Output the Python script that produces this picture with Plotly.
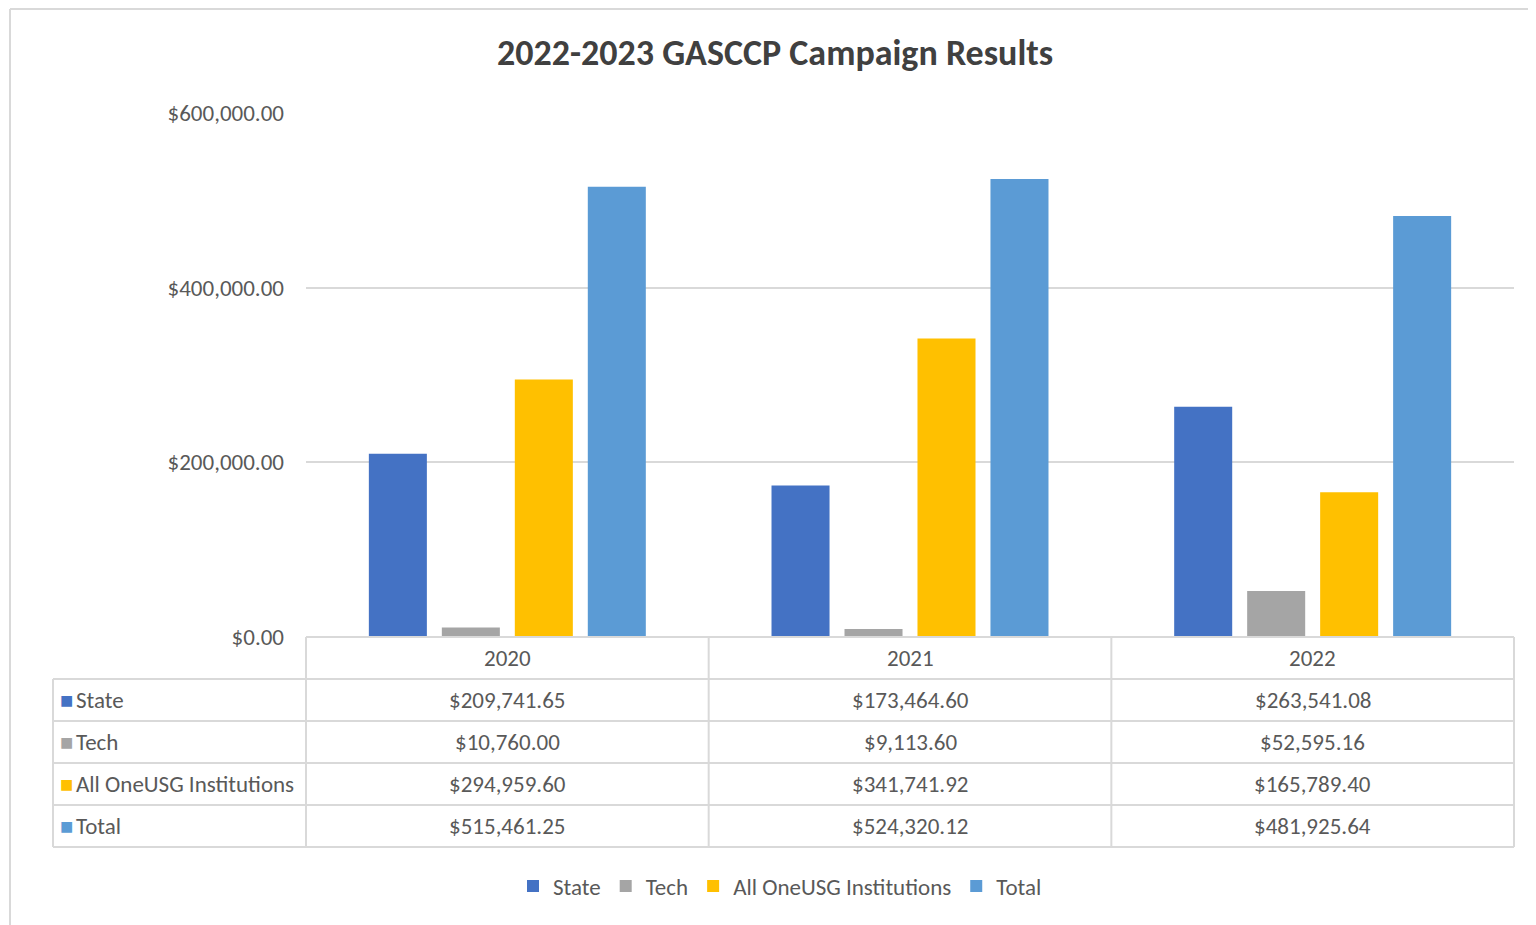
import plotly.graph_objects as go

W, H = 1528, 917   # page body has an 8px margin; 8 + 1528 = 1536, 8 + 917 = 925
OFF = 8

years = ["2020", "2021", "2022"]
series_names = ["State", "Tech", "All OneUSG Institutions", "Total"]
state = [209741.65, 173464.60, 263541.08]
tech = [10760.00, 9113.60, 52595.16]
all_inst = [294959.60, 341741.92, 165789.40]
total = [515461.25, 524320.12, 481925.64]
colors = ["#4472C4", "#A5A5A5", "#FFC000", "#5B9BD5"]
y_ticks = [0, 200000, 400000, 600000]
y_tick_labels = ["$0.00", "$200,000.00", "$400,000.00", "$600,000.00"]

values = [state, tech, all_inst, total]

FONT = "Carlito, Calibri, Lato, sans-serif"
TXT = "#595959"
GRID = "#D9D9D9"


def px(x):
    return (x - OFF) / W


def py(y):
    return 1 - (y - OFF) / H


# layout geometry (screen pixels of the reference)
plot_l, plot_r = 306, 1514
plot_t, plot_b = 113, 637
tab_l = 53
row_edges = [637, 679, 721, 763, 805, 847]

fig = go.Figure()
for name, vals, col in zip(series_names, values, colors):
    fig.add_trace(go.Bar(x=years, y=vals, name=name, marker=dict(color=col, line=dict(width=0)),
                         hoverinfo="skip"))

shapes = []
line = dict(color=GRID, width=2)
# outer chart border
shapes.append(dict(type="line", xref="paper", yref="paper", x0=px(10), x1=px(1540), y0=py(9), y1=py(9), line=line))
shapes.append(dict(type="line", xref="paper", yref="paper", x0=px(10), x1=px(10), y0=py(9), y1=py(930), line=line))
# table horizontal lines
for i, ye in enumerate(row_edges):
    xl = plot_l if i == 0 else tab_l
    shapes.append(dict(type="line", xref="paper", yref="paper", x0=px(xl), x1=px(plot_r),
                       y0=py(ye), y1=py(ye), line=line))
# table vertical lines
shapes.append(dict(type="line", xref="paper", yref="paper", x0=px(tab_l), x1=px(tab_l),
                   y0=py(row_edges[1]), y1=py(row_edges[-1]), line=line))
col_w = (plot_r - plot_l) / len(years)
for k in range(len(years) + 1):
    xv = plot_l + k * col_w
    shapes.append(dict(type="line", xref="paper", yref="paper", x0=px(xv), x1=px(xv),
                       y0=py(row_edges[0]), y1=py(row_edges[-1]), line=line))

annotations = []
annotations.append(dict(text="<b>2022-2023 GASCCP Campaign Results</b>", xref="paper", yref="paper",
                        x=px(775), y=py(53), showarrow=False, xanchor="center", yanchor="middle",
                        font=dict(family=FONT, size=36, color="#404040")))
# header row (category index positions on the x axis)
hdr_y = (row_edges[0] + row_edges[1]) / 2
for ci, yr in enumerate(years):
    annotations.append(dict(text=yr, xref="x", yref="paper", x=ci, y=py(hdr_y), showarrow=False,
                            xanchor="center", yanchor="middle", font=dict(family=FONT, size=23, color=TXT)))
for r, (name, vals, col) in enumerate(zip(series_names, values, colors)):
    yc = (row_edges[r + 1] + row_edges[r + 2]) / 2
    annotations.append(dict(text=(f"<span style='color:{col};font-size:22px'>■</span>"
                                  f"<span style='font-size:12px'> </span>{name}"),
                            xref="paper", yref="paper",
                            x=px(58), y=py(yc), showarrow=False, xanchor="left", yanchor="middle",
                            font=dict(family=FONT, size=23, color=TXT)))
    for ci, v in enumerate(vals):
        annotations.append(dict(text=f"${v:,.2f}", xref="x", yref="paper", x=ci, y=py(yc), showarrow=False,
                                xanchor="center", yanchor="middle", font=dict(family=FONT, size=23, color=TXT)))

fig.update_layout(
    width=W, height=H, autosize=False,
    margin=dict(l=0, r=0, t=0, b=0, pad=0, autoexpand=False),
    paper_bgcolor="white", plot_bgcolor="white",
    barmode="group", bargap=0.275, bargroupgap=0.205,
    font=dict(family=FONT, size=23, color=TXT),
    xaxis=dict(type="category", range=[-0.5, 2.5], domain=[px(plot_l), px(plot_r)],
               showticklabels=False, showgrid=False, zeroline=False, showline=False, ticks=""),
    yaxis=dict(domain=[py(plot_b), py(plot_t)], range=[0, 600000], tickvals=y_ticks,
               ticktext=y_tick_labels, showgrid=True, gridcolor=GRID, gridwidth=2,
               zeroline=False, showline=False, ticks="", ticklabelstandoff=21, automargin=False,
               tickfont=dict(family=FONT, size=23, color=TXT)),
    legend=dict(orientation="h", x=px(780), xanchor="center", y=py(886), yanchor="middle",
                font=dict(family=FONT, size=23, color=TXT), bgcolor="rgba(0,0,0,0)",
                itemclick=False, itemdoubleclick=False, tracegroupgap=0),
    shapes=shapes, annotations=annotations,
    showlegend=True,
)

fig.write_html("out.html")
